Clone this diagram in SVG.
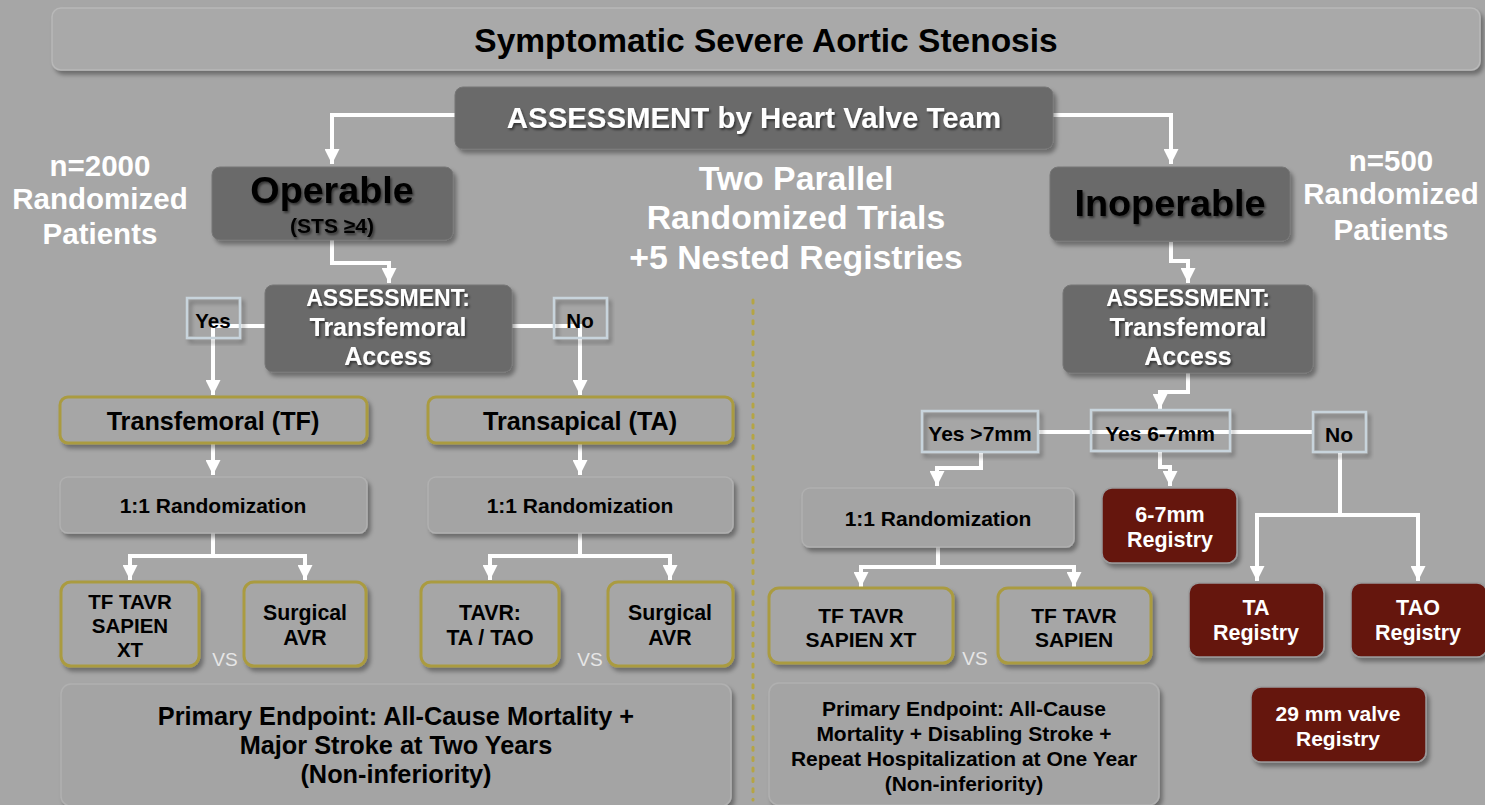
<svg xmlns="http://www.w3.org/2000/svg" width="1485" height="805" viewBox="0 0 1485 805">
<defs>
<filter id="sh" x="-10%" y="-10%" width="125%" height="130%">
<feDropShadow dx="3" dy="4" stdDeviation="2" flood-color="#000" flood-opacity="0.35"/>
</filter>
<filter id="tsh" x="-5%" y="-20%" width="110%" height="150%">
<feDropShadow dx="1.5" dy="2" stdDeviation="1" flood-color="#000" flood-opacity="0.5"/>
</filter>
<marker id="ah" viewBox="0 0 10 10" refX="10" refY="5" markerWidth="15" markerHeight="15" markerUnits="userSpaceOnUse" orient="auto-start-reverse">
<path d="M0,0 L10,5 L0,10 z" fill="#ffffff"/>
</marker>
<style>
text{font-family:"Liberation Sans",Arial,sans-serif;font-weight:bold;text-anchor:middle;dominant-baseline:central}
.dark{fill:#6b6b6b;stroke:#767676;stroke-width:1}
.light{fill:#a4a4a4;stroke:#b0b0b0;stroke-width:1.5}
.olive{fill:#a6a6a6;stroke:#aa9b40;stroke-width:3}
.red{fill:#651310;stroke:#9a9a9a;stroke-width:1.5}
.lbl{fill:none;stroke:#c8d4dc;stroke-width:2.5}
.w{fill:#ffffff}
.k{fill:#000000}
.vs{fill:#e6e6e6;font-weight:normal}
.c{fill:none;stroke:#ffffff;stroke-width:4}
</style>
</defs>
<rect width="1485" height="805" fill="#a6a6a6"/>

<line x1="753" y1="300" x2="753" y2="800" stroke="#b5a545" stroke-width="3" stroke-linecap="round" stroke-dasharray="3 7.4"/>

<g id="connectors">
<path class="c" d="M455,115 H332 V164" marker-end="url(#ah)"/>
<path class="c" d="M1053,115 H1171 V164" marker-end="url(#ah)"/>
<path class="c" d="M332,240 V263 H389 V283" marker-end="url(#ah)"/>
<path class="c" d="M265,326 H213 V395" marker-end="url(#ah)"/>
<path class="c" d="M512,326 H580 V395" marker-end="url(#ah)"/>
<path class="c" d="M213,443 V475" marker-end="url(#ah)"/>
<path class="c" d="M580,443 V475" marker-end="url(#ah)"/>
<path class="c" d="M213,533 V556"/>
<path class="c" d="M130,580 V556 H305 V580" marker-start="url(#ah)" marker-end="url(#ah)"/>
<path class="c" d="M580,533 V556"/>
<path class="c" d="M490,580 V556 H670 V580" marker-start="url(#ah)" marker-end="url(#ah)"/>
<path class="c" d="M1171,242 V261 H1188 V283" marker-end="url(#ah)"/>
<path class="c" d="M1188,373 V392 H1160 V409" marker-end="url(#ah)"/>
<path class="c" d="M1037,432 H1313"/>
<path class="c" d="M981,452 V468 H937 V486" marker-end="url(#ah)"/>
<path class="c" d="M938,547 V567"/>
<path class="c" d="M861,587 V567 H1074 V587" marker-start="url(#ah)" marker-end="url(#ah)"/>
<path class="c" d="M1160,451 V467 H1170 V486" marker-end="url(#ah)"/>
<path class="c" d="M1340,452 V515"/>
<path class="c" d="M1257,581 V515 H1418 V581" marker-start="url(#ah)" marker-end="url(#ah)"/>
</g>

<g id="title">
<rect x="52" y="8" width="1428" height="62" rx="9" fill="#a9a9a9" stroke="#b8b8b8" stroke-width="1.5" filter="url(#sh)"/>
<text x="766" y="40" class="k" font-size="33.5">Symptomatic Severe Aortic Stenosis</text>
</g>

<g id="hvt">
<rect x="455" y="87" width="598" height="62" rx="8" class="dark" filter="url(#sh)"/>
<text x="754" y="117" class="w" font-size="29.4" filter="url(#tsh)">ASSESSMENT by Heart Valve Team</text>
</g>

<g id="n2000">
<text x="100" y="165" class="w" font-size="29.5">n=2000</text>
<text x="100" y="198" class="w" font-size="29.5">Randomized</text>
<text x="100" y="233" class="w" font-size="29.5">Patients</text>
</g>

<g id="n500">
<text x="1391" y="160" class="w" font-size="29.5">n=500</text>
<text x="1391" y="193" class="w" font-size="29.5">Randomized</text>
<text x="1391" y="229" class="w" font-size="29.5">Patients</text>
</g>

<g id="center-note">
<text x="796" y="178" class="w" font-size="33.8">Two Parallel</text>
<text x="796" y="217" class="w" font-size="33.8">Randomized Trials</text>
<text x="796" y="257" class="w" font-size="33.8">+5 Nested Registries</text>
</g>

<g id="operable">
<rect x="212" y="167" width="241" height="73" rx="8" class="dark" filter="url(#sh)"/>
<text x="332" y="190" class="k" font-size="37.7" filter="url(#tsh)">Operable</text>
<text x="332" y="225" class="k" font-size="21" filter="url(#tsh)">(STS ≥4)</text>
</g>

<g id="inoperable">
<rect x="1050" y="167" width="240" height="74" rx="8" class="dark" filter="url(#sh)"/>
<text x="1170" y="203" class="k" font-size="37.8" filter="url(#tsh)">Inoperable</text>
</g>

<g id="assess-left">
<rect x="265" y="285" width="247" height="87" rx="8" class="dark" filter="url(#sh)"/>
<text x="388" y="298" class="w" font-size="23" filter="url(#tsh)">ASSESSMENT:</text>
<text x="388" y="327" class="w" font-size="25" filter="url(#tsh)">Transfemoral</text>
<text x="388" y="356" class="w" font-size="25" filter="url(#tsh)">Access</text>
</g>

<g id="assess-right">
<rect x="1063" y="285" width="250" height="88" rx="8" class="dark" filter="url(#sh)"/>
<text x="1188" y="298" class="w" font-size="23" filter="url(#tsh)">ASSESSMENT:</text>
<text x="1188" y="327" class="w" font-size="25" filter="url(#tsh)">Transfemoral</text>
<text x="1188" y="356" class="w" font-size="25" filter="url(#tsh)">Access</text>
</g>

<g id="yes-left">
<rect x="187" y="298" width="53" height="40" class="lbl" filter="url(#sh)"/>
<text x="213" y="320" class="k" font-size="20.5">Yes</text>
</g>
<g id="no-left">
<rect x="554" y="298" width="53" height="40" class="lbl" filter="url(#sh)"/>
<text x="580" y="320" class="k" font-size="20.5">No</text>
</g>

<g id="tf">
<rect x="60" y="397" width="307" height="46" rx="8" class="olive" filter="url(#sh)"/>
<text x="213" y="421" class="k" font-size="25.2">Transfemoral (TF)</text>
</g>
<g id="ta">
<rect x="428" y="397" width="305" height="46" rx="8" class="olive" filter="url(#sh)"/>
<text x="580" y="421" class="k" font-size="25.2">Transapical (TA)</text>
</g>

<g id="rand-left">
<rect x="60" y="477" width="307" height="56" rx="8" class="light" filter="url(#sh)"/>
<text x="213" y="505" class="k" font-size="21">1:1 Randomization</text>
</g>
<g id="rand-mid">
<rect x="428" y="477" width="305" height="56" rx="8" class="light" filter="url(#sh)"/>
<text x="580" y="505" class="k" font-size="21">1:1 Randomization</text>
</g>

<g id="tf-tavr-xt">
<rect x="61" y="582" width="138" height="84" rx="10" class="olive" filter="url(#sh)"/>
<text x="130" y="601" class="k" font-size="20.5">TF TAVR</text>
<text x="130" y="625" class="k" font-size="20.5">SAPIEN</text>
<text x="130" y="649" class="k" font-size="20.5">XT</text>
</g>
<g id="savr-1">
<rect x="244" y="582" width="122" height="84" rx="10" class="olive" filter="url(#sh)"/>
<text x="305" y="613" class="k" font-size="21.3">Surgical</text>
<text x="305" y="638" class="k" font-size="21.3">AVR</text>
</g>
<g id="tavr-ta">
<rect x="421" y="582" width="138" height="84" rx="10" class="olive" filter="url(#sh)"/>
<text x="490" y="613" class="k" font-size="21.3">TAVR:</text>
<text x="490" y="638" class="k" font-size="21.3">TA / TAO</text>
</g>
<g id="savr-2">
<rect x="608" y="582" width="125" height="84" rx="10" class="olive" filter="url(#sh)"/>
<text x="670" y="613" class="k" font-size="21.3">Surgical</text>
<text x="670" y="638" class="k" font-size="21.3">AVR</text>
</g>
<text x="225" y="659" class="vs" font-size="19">VS</text>
<text x="590" y="659" class="vs" font-size="19">VS</text>

<g id="primary-left">
<rect x="61" y="684" width="670" height="122" rx="10" class="light" filter="url(#sh)"/>
<text x="396" y="716" class="k" font-size="25.3">Primary Endpoint: All-Cause Mortality +</text>
<text x="396" y="745" class="k" font-size="25.3">Major Stroke at Two Years</text>
<text x="396" y="774" class="k" font-size="25.3">(Non-inferiority)</text>
</g>

<g id="yes-7">
<rect x="922" y="411" width="116" height="41" class="lbl" filter="url(#sh)"/>
<text x="980" y="433" class="k" font-size="21">Yes &gt;7mm</text>
</g>
<g id="yes-67">
<rect x="1091" y="410" width="139" height="41" class="lbl" filter="url(#sh)"/>
<text x="1160" y="433" class="k" font-size="21">Yes 6-7mm</text>
</g>
<g id="no-right">
<rect x="1313" y="412" width="53" height="40" class="lbl" filter="url(#sh)"/>
<text x="1339" y="434" class="k" font-size="21">No</text>
</g>

<g id="rand-right">
<rect x="802" y="488" width="272" height="59" rx="8" class="light" filter="url(#sh)"/>
<text x="938" y="518" class="k" font-size="21">1:1 Randomization</text>
</g>

<g id="tf-tavr-xt-right">
<rect x="769" y="588" width="184" height="75" rx="10" class="olive" filter="url(#sh)"/>
<text x="861" y="615" class="k" font-size="21">TF TAVR</text>
<text x="861" y="639" class="k" font-size="21">SAPIEN XT</text>
</g>
<g id="tf-tavr-right">
<rect x="998" y="588" width="153" height="75" rx="10" class="olive" filter="url(#sh)"/>
<text x="1074" y="615" class="k" font-size="21">TF TAVR</text>
<text x="1074" y="639" class="k" font-size="21">SAPIEN</text>
</g>
<text x="975" y="658" class="vs" font-size="19">VS</text>

<g id="reg-67">
<rect x="1102" y="488" width="135" height="75" rx="10" class="red" filter="url(#sh)"/>
<text x="1170" y="515" class="w" font-size="21.5">6-7mm</text>
<text x="1170" y="540" class="w" font-size="21.5">Registry</text>
</g>
<g id="reg-ta">
<rect x="1189" y="583" width="135" height="74" rx="10" class="red" filter="url(#sh)"/>
<text x="1256" y="608" class="w" font-size="21.5">TA</text>
<text x="1256" y="633" class="w" font-size="21.5">Registry</text>
</g>
<g id="reg-tao">
<rect x="1351" y="583" width="136" height="74" rx="10" class="red" filter="url(#sh)"/>
<text x="1418" y="608" class="w" font-size="21.5">TAO</text>
<text x="1418" y="633" class="w" font-size="21.5">Registry</text>
</g>
<g id="reg-29">
<rect x="1251" y="687" width="175" height="75" rx="10" class="red" filter="url(#sh)"/>
<text x="1338" y="713" class="w" font-size="21">29 mm valve</text>
<text x="1338" y="738" class="w" font-size="21">Registry</text>
</g>

<g id="primary-right">
<rect x="769" y="683" width="390" height="122" rx="10" class="light" filter="url(#sh)"/>
<text x="964" y="708" class="k" font-size="21">Primary Endpoint: All-Cause</text>
<text x="964" y="733" class="k" font-size="21">Mortality + Disabling Stroke +</text>
<text x="964" y="758" class="k" font-size="21">Repeat Hospitalization at One Year</text>
<text x="964" y="783" class="k" font-size="21">(Non-inferiority)</text>
</g>
</svg>
